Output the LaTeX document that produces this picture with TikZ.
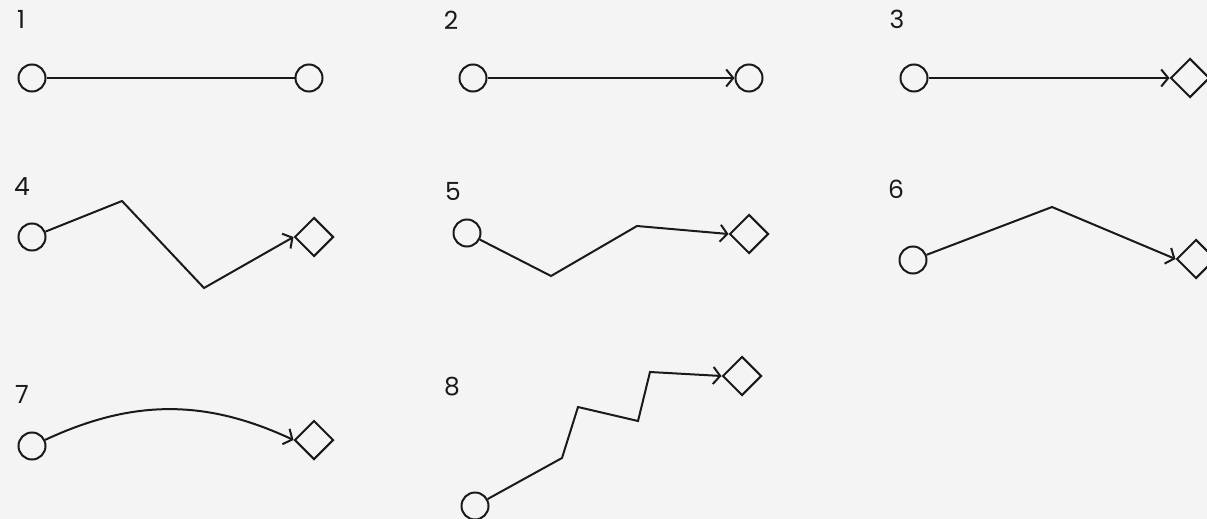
\documentclass[tikz,border=0pt]{standalone}
\usepackage{fontspec}
\setmainfont{Poppins}
\usetikzlibrary{arrows.meta,shapes.geometric}
\definecolor{bg}{HTML}{F4F4F4}
\definecolor{ink}{HTML}{1A1A1A}
\tikzset{
  endpt/.style={circle,draw=ink,line width=2pt,minimum size=27pt,inner sep=0pt},
  target/.style={diamond,aspect=1,draw=ink,line width=2pt,minimum width=39pt,minimum height=39pt,inner sep=0pt},
  link/.style={draw=ink,line width=2pt,line join=miter},
  barb/.style={-{Straight Barb[length=7pt,width=17pt,line width=2pt]}},
  numlabel/.style={font=\fontsize{25}{28}\selectfont,text=ink,inner sep=0pt}
}
\begin{document}
\begin{tikzpicture}[x=1pt,y=-1pt]
\fill[bg] (0,0) rectangle (1207,519);
\useasboundingbox (0,0) rectangle (1207,519);
% panel 1
\node[numlabel] (l1) at (21,19) {1};
\node[endpt] (a1) at (32,78) {};
\node[endpt] (b1) at (309,78) {};
\draw[link] (a1) -- (b1);
% panel 2
\node[numlabel] (l2) at (451,20) {2};
\node[endpt] (a2) at (473,78) {};
\node[endpt] (b2) at (749,78) {};
\draw[link,barb] (a2) -- (b2);
% panel 3
\node[numlabel] (l3) at (897,19) {3};
\node[endpt] (a3) at (914,78) {};
\node[target] (b3) at (1190,78) {};
\draw[link,barb] (a3) -- (b3.west);
% panel 4
\node[numlabel] (l4) at (22,187) {4};
\node[endpt] (a4) at (32,237) {};
\coordinate (k41) at (122,201);
\coordinate (k42) at (204,288);
\node[target] (b4) at (314,237) {};
\draw[link,barb] (a4) -- (k41) -- (k42) -- (b4.west);
% panel 5
\node[numlabel] (l5) at (453,191) {5};
\node[endpt] (a5) at (467,233) {};
\coordinate (k51) at (551,276);
\coordinate (k52) at (637,226);
\node[target] (b5) at (749,234) {};
\draw[link,barb] (a5) -- (k51) -- (k52) -- (b5.west);
% panel 6
\node[numlabel] (l6) at (896,189) {6};
\node[endpt] (a6) at (913,260) {};
\coordinate (k61) at (1052,207);
\node[target] (b6) at (1196,259) {};
\draw[link,barb] (a6) -- (k61) -- (b6.west);
% panel 7
\node[numlabel] (l7) at (22,394) {7};
\node[endpt] (a7) at (32,446) {};
\node[target] (b7) at (314,440) {};
\draw[link,barb] (a7) to[out=25,in=155] (b7.west);
% panel 8
\node[numlabel] (l8) at (452,387) {8};
\node[endpt] (a8) at (475,506) {};
\coordinate (k81) at (562,458);
\coordinate (k82) at (578,407);
\coordinate (k83) at (638,421);
\coordinate (k84) at (650,372);
\node[target] (b8) at (742,376) {};
\draw[link,barb] (a8) -- (k81) -- (k82) -- (k83) -- (k84) -- (b8.west);
\end{tikzpicture}
\end{document}
